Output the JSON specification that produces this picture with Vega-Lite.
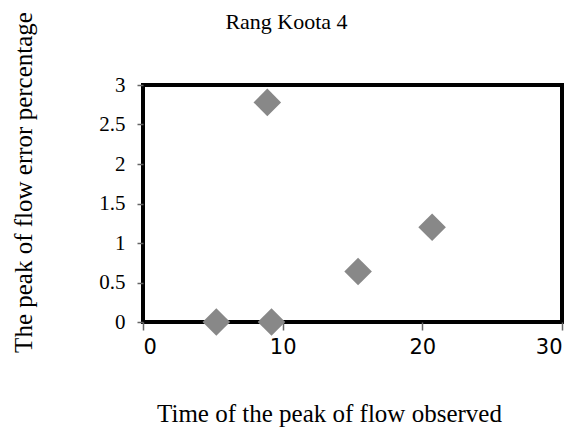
{
  "$schema": "https://vega.github.io/schema/vega-lite/v6.json",
  "width": 419,
  "height": 237,
  "autosize": "none",
  "padding": {"left": 143, "top": 85, "right": 14, "bottom": 108},
  "background": "white",
  "title": {
    "text": "Rang Koota 4",
    "font": "Liberation Serif",
    "fontSize": 22,
    "fontWeight": "normal",
    "color": "black",
    "anchor": "middle",
    "frame": "group",
    "dx": -66,
    "offset": -22
  },
  "data": {
    "values": [
      {"time": 8.9, "error": 2.78},
      {"time": 5.25, "error": 0},
      {"time": 9.2, "error": 0},
      {"time": 15.4, "error": 0.64},
      {"time": 20.7, "error": 1.2}
    ]
  },
  "mark": {"type": "point", "shape": "diamond", "filled": true, "size": 760, "color": "#888888", "opacity": 1, "clip": false},
  "encoding": {
    "x": {
      "field": "time",
      "type": "quantitative",
      "scale": {"domain": [0, 30], "nice": false, "zero": false},
      "axis": {
        "values": [0, 10, 20, 30],
        "format": "d",
        "grid": false,
        "domain": false,
        "tickColor": "#666666",
        "tickSize": 8,
        "tickWidth": 1.5,
        "labelFont": "DejaVu Sans",
        "labelFontSize": 21,
        "labelColor": "black",
        "labelPadding": 6,
        "title": "Time of the peak of flow observed",
        "titleFont": "Liberation Serif",
        "titleFontSize": 25,
        "titleFontWeight": "normal",
        "titleColor": "black",
        "titleX": 186,
        "titleY": 99,
        "titleBaseline": "alphabetic",
        "titleAlign": "center"
      }
    },
    "y": {
      "field": "error",
      "type": "quantitative",
      "scale": {"domain": [0, 3], "nice": false, "zero": false},
      "axis": {
        "values": [0, 0.5, 1, 1.5, 2, 2.5, 3],
        "format": "~g",
        "grid": false,
        "domain": false,
        "tickColor": "#666666",
        "tickSize": 6,
        "tickWidth": 1.5,
        "labelFont": "Liberation Serif",
        "labelFontSize": 21,
        "labelColor": "black",
        "labelPadding": 12,
        "title": "The peak of flow error percentage",
        "titleFont": "Liberation Serif",
        "titleFontSize": 25,
        "titleFontWeight": "normal",
        "titleColor": "black",
        "titleX": -112,
        "titleY": 97,
        "titleAngle": -90,
        "titleBaseline": "alphabetic",
        "titleAlign": "center"
      }
    }
  },
  "config": {
    "view": {"stroke": "black", "strokeWidth": 4}
  }
}
